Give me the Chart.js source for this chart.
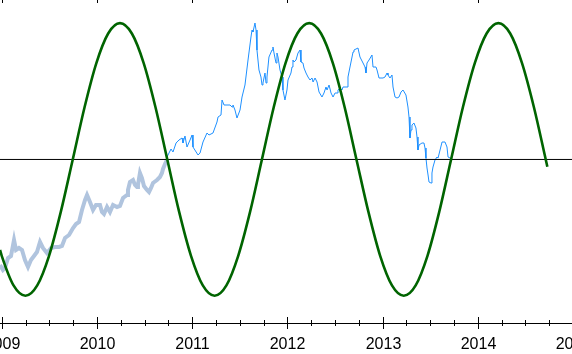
<!DOCTYPE html>
<html>
<head>
<meta charset="utf-8">
<script src="https://cdn.jsdelivr.net/npm/chart.js@4.4.1/dist/chart.umd.min.js"></script>
<style>
html,body{margin:0;padding:0;background:#fff;}
#c{display:block;}
</style>
</head>
<body>
<canvas id="c" width="572" height="354"></canvas>
<script>
// ---- data (x values are decimal years) ----
const yearTicks = [2009, 2010, 2011, 2012, 2013, 2014, 2015];

// early history (thick, light steel blue)
const trendDates = [2008.976,2009.007,2009.028,2009.060,2009.091,2009.123,2009.144,2009.175,2009.207,2009.238,
  2009.270,2009.301,2009.333,2009.364,2009.396,2009.427,2009.469,2009.512,2009.554,2009.596,
  2009.627,2009.659,2009.701,2009.743,2009.774,2009.806,2009.837,2009.869,2009.890,2009.921,
  2009.953,2009.984,2010.026,2010.047,2010.068,2010.100,2010.131,2010.163,2010.205,2010.236,
  2010.268,2010.310,2010.320,2010.341,2010.373,2010.394,2010.415,2010.425,2010.446,2010.467,
  2010.488,2010.520,2010.541,2010.562,2010.583,2010.625,2010.656,2010.677,2010.688,2010.709,2010.730];
const trendPrices = [940,920,928,968,976,1040,1000,1008,1000,960,
  932,960,976,992,1032,1008,988,1008,1012,1012,
  1016,1048,1060,1088,1104,1112,1160,1200,1220,1192,
  1160,1180,1180,1152,1144,1172,1152,1180,1172,1176,
  1208,1220,1240,1272,1280,1260,1252,1260,1308,1288,
  1256,1240,1232,1248,1268,1280,1292,1308,1324,1344,1360];

// recent prices (thin, dodger blue)
const priceDates = [2010.730,2010.772,2010.793,2010.825,2010.856,2010.888,2010.898,2010.919,2010.940,2010.972,
  2010.993,2011.003,2011.056,2011.077,2011.108,2011.150,2011.171,2011.213,2011.255,2011.266,
  2011.297,2011.308,2011.329,2011.360,2011.392,2011.413,2011.423,2011.444,2011.465,2011.497,
  2011.518,2011.549,2011.581,2011.612,2011.623,2011.633,2011.654,2011.665,2011.675,2011.696,
  2011.717,2011.728,2011.738,2011.759,2011.770,2011.780,2011.801,2011.833,2011.843,2011.854,
  2011.875,2011.885,2011.896,2011.917,2011.938,2011.948,2011.969,2011.990,2012.001,2012.032,
  2012.043,2012.053,2012.064,2012.085,2012.106,2012.127,2012.137,2012.158,2012.169,2012.190,
  2012.211,2012.232,2012.253,2012.264,2012.285,2012.306,2012.327,2012.358,2012.379,2012.400,
  2012.411,2012.432,2012.453,2012.474,2012.495,2012.516,2012.526,2012.547,2012.568,2012.579,
  2012.621,2012.631,2012.652,2012.684,2012.694,2012.736,2012.757,2012.789,2012.810,2012.820,
  2012.831,2012.852,2012.883,2012.894,2012.925,2012.936,2012.957,2012.999,2013.020,2013.041,
  2013.051,2013.072,2013.093,2013.104,2013.125,2013.146,2013.167,2013.188,2013.209,2013.240,
  2013.261,2013.272,2013.282,2013.293,2013.303,2013.324,2013.345,2013.356,2013.366,2013.377,
  2013.408,2013.429,2013.440,2013.450,2013.461,2013.472,2013.482,2013.503,2013.513,2013.524,
  2013.545,2013.566,2013.577,2013.598,2013.619,2013.650,2013.671,2013.682,2013.703,2013.724];
const prices = [1372,1404,1392,1428,1440,1448,1428,1456,1412,1440,
  1460,1412,1380,1388,1432,1468,1460,1468,1512,1532,
  1540,1600,1580,1580,1580,1572,1580,1560,1528,1560,
  1612,1660,1760,1852,1880,1872,1908,1880,1800,1720,
  1692,1660,1668,1708,1668,1692,1772,1800,1812,1788,
  1748,1788,1772,1720,1692,1640,1600,1640,1680,1708,
  1732,1760,1752,1760,1788,1800,1752,1748,1728,1708,
  1692,1680,1688,1672,1688,1672,1632,1612,1628,1652,
  1640,1660,1628,1612,1628,1628,1640,1648,1640,1652,
  1652,1692,1732,1792,1800,1808,1772,1748,1732,1708,
  1748,1760,1780,1732,1732,1720,1688,1688,1692,1708,
  1700,1688,1700,1652,1612,1608,1612,1632,1640,1620,
  1572,1532,1448,1480,1500,1508,1488,1452,1400,1420,
  1428,1428,1408,1368,1328,1300,1272,1268,1308,1332,
  1360,1372,1368,1400,1432,1432,1412,1372,1368,1364];

// cycle curve (dark green), in cycle units
const cycleDates = [2008.976,2008.994,2009.118,2009.243,2009.367,2009.491,2009.615,2009.740,2009.864,2009.988,
  2010.112,2010.236,2010.361,2010.485,2010.609,2010.733,2010.857,2010.982,2011.106,2011.230,
  2011.354,2011.478,2011.603,2011.727,2011.851,2011.975,2012.099,2012.224,2012.348,2012.472,
  2012.596,2012.720,2012.845,2012.969,2013.093,2013.217,2013.342,2013.466,2013.590,2013.714,
  2013.838,2013.963,2014.087,2014.211,2014.335,2014.459,2014.584,2014.708,2014.725];
const cycleValues = [-0.664,-0.707,-0.924,-1,-0.924,-0.707,-0.383,0,0.383,0.707,
  0.924,1,0.924,0.707,0.383,0,-0.383,-0.707,-0.924,-1,
  -0.924,-0.707,-0.383,0,0.383,0.707,0.924,1,0.924,0.707,
  0.383,0,-0.383,-0.707,-0.924,-1,-0.924,-0.707,-0.383,0,
  0.383,0.707,0.924,1,0.924,0.707,0.383,0,-0.053];

const baseLevel = 0; // cycle midline

// ---- build ----
const X_MIN = 2008.9758, X_MAX = 2014.984;
const zip = (xs, ys) => xs.map((x, i) => ({x, y: ys[i]}));

const axisPlugin = {
  id: 'yearAxis',
  afterDraw(chart) {
    const ctx = chart.ctx;
    const xs = chart.scales.x;
    const yAxis = chart.chartArea.bottom + 0.5;
    ctx.save();
    ctx.strokeStyle = '#000';
    ctx.lineWidth = 1;
    ctx.beginPath();
    ctx.moveTo(0, yAxis); ctx.lineTo(chart.width, yAxis);
    // quarter ticks
    for (let y = yearTicks[0] - 1; y <= yearTicks[yearTicks.length - 1]; y++) {
      for (let q = 0; q < 4; q++) {
        const v = y + q * 0.25;
        const px = Math.floor(xs.getPixelForValue(v)) + 0.5;
        if (px < 0 || px > chart.width) continue;
        if (q === 0) {
          ctx.moveTo(px, yAxis - 6.5); ctx.lineTo(px, yAxis + 5.5);
          ctx.moveTo(px, 0); ctx.lineTo(px, 3);
        } else {
          ctx.moveTo(px, yAxis - 3.5); ctx.lineTo(px, yAxis + 2.5);
        }
      }
    }
    ctx.stroke();
    ctx.fillStyle = '#000';
    ctx.font = '16px "Liberation Sans", Arial, sans-serif';
    ctx.textAlign = 'center';
    ctx.textBaseline = 'alphabetic';
    yearTicks.forEach(yr => {
      const px = Math.floor(xs.getPixelForValue(yr)) + 0.5;
      ctx.fillText(String(yr), px, 349);
    });
    ctx.restore();
  }
};

new Chart(document.getElementById('c'), {
  type: 'line',
  data: {
    datasets: [
      {label: 'history', data: zip(trendDates, trendPrices), yAxisID: 'y',
       borderColor: '#B0C4DE', borderWidth: 4, pointRadius: 0, tension: 0, order: 4},
      {label: 'price', data: zip(priceDates, prices), yAxisID: 'y',
       borderColor: '#1E90FF', borderWidth: 1, pointRadius: 0, tension: 0, order: 3},
      {label: 'base', data: [{x: X_MIN, y: baseLevel}, {x: X_MAX, y: baseLevel}], yAxisID: 'y2',
       borderColor: '#000000', borderWidth: 1, pointRadius: 0, order: 2},
      {label: 'cycle', data: zip(cycleDates, cycleValues), yAxisID: 'y2',
       borderColor: '#006400', borderWidth: 2.6, pointRadius: 0, cubicInterpolationMode: 'monotone', order: 1}
    ]
  },
  options: {
    responsive: false,
    animation: false,
    devicePixelRatio: 1,
    layout: {padding: {left: 0, right: 0, top: 0, bottom: 31}},
    plugins: {legend: {display: false}, tooltip: {enabled: false}},
    scales: {
      x: {type: 'linear', min: X_MIN, max: X_MAX, display: false},
      y: {type: 'linear', min: 708, max: 2000, display: false},
      y2: {type: 'linear', min: -1.2, max: 1.17, display: false}
    }
  },
  plugins: [axisPlugin]
});
</script>
</body>
</html>
